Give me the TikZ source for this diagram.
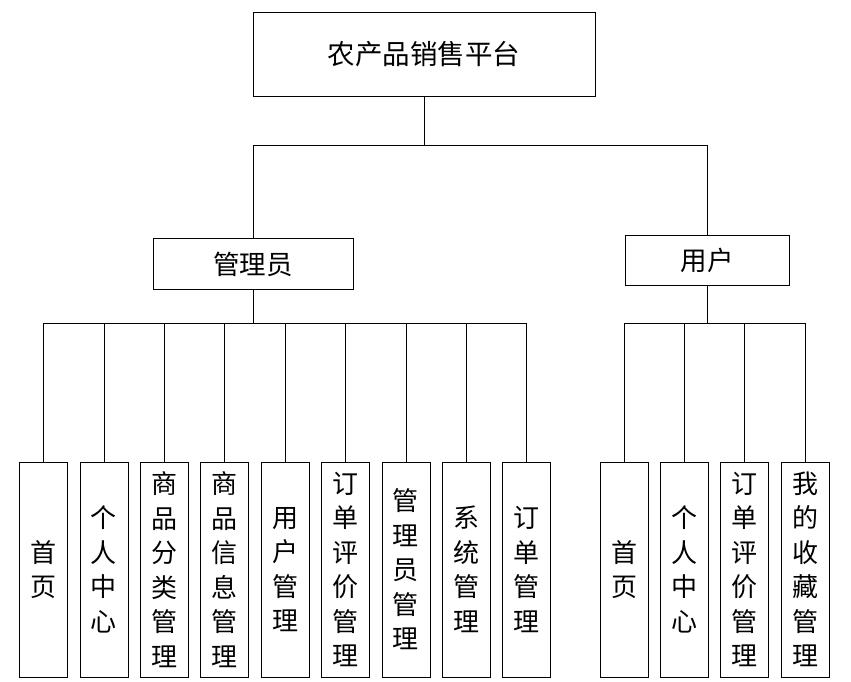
\documentclass[tikz,border=0pt]{standalone}
\usepackage{fontspec}
\setmainfont{Noto Sans CJK SC}
\usetikzlibrary{positioning}

\begin{document}
\begin{tikzpicture}[
    x=1pt, y=1pt,
    node distance=11.6pt,
    topbox/.style={rectangle, draw, line width=0.8pt, minimum width=342pt, minimum height=84pt, inner sep=0pt, font=\fontsize{27.5}{32}\selectfont},
    rolebox/.style={rectangle, draw, line width=0.8pt, minimum height=51pt, inner sep=0pt, font=\fontsize{26.5}{30}\selectfont},
    leaf/.style={rectangle, draw, line width=0.8pt, minimum width=48pt, minimum height=215pt, inner sep=0pt, align=center, font=\fontsize{26}{34.5}\selectfont},
    link/.style={line width=0.8pt}
]
\useasboundingbox (0,0) rectangle (851,-681);

% Root
\node[topbox] (root) at (424,-54) {农产品销售平台};

% Roles
\node[rolebox, minimum width=200pt] (admin) at (253,-264) {管理员};
\node[rolebox, minimum width=164pt, minimum height=50pt] (user) at (707,-260) {用户};

% Admin functions
\node[leaf] (a1) at (43.5,-569.5) {首\\页};
\node[leaf, right=of a1] (a2) {个\\人\\中\\心};
\node[leaf, right=of a2] (a3) {商\\品\\分\\类\\管\\理};
\node[leaf, right=of a3] (a4) {商\\品\\信\\息\\管\\理};
\node[leaf, right=of a4] (a5) {用\\户\\管\\理};
\node[leaf, right=of a5] (a6) {订\\单\\评\\价\\管\\理};
\node[leaf, right=of a6] (a7) {管\\理\\员\\管\\理};
\node[leaf, right=of a7] (a8) {系\\统\\管\\理};
\node[leaf, right=of a8] (a9) {订\\单\\管\\理};

% User functions
\node[leaf] (u1) at (624,-569.5) {首\\页};
\node[leaf, right=of u1] (u2) {个\\人\\中\\心};
\node[leaf, right=of u2] (u3) {订\\单\\评\\价\\管\\理};
\node[leaf, right=of u3] (u4) {我\\的\\收\\藏\\管\\理};

% Links
\draw[link] (root.south) -- ++(0,-49) -| (admin.north);
\draw[link] (root.south) -- ++(0,-49) -| (user.north);

\draw[link] (admin.south) -- ++(0,-33) -| (a1.north);
\draw[link] (admin.south) -- ++(0,-33) -| (a2.north);
\draw[link] (admin.south) -- ++(0,-33) -| (a3.north);
\draw[link] (admin.south) -- ++(0,-33) -| (a4.north);
\draw[link] (admin.south) -- ++(0,-33) -| (a5.north);
\draw[link] (admin.south) -- ++(0,-33) -| (a6.north);
\draw[link] (admin.south) -- ++(0,-33) -| (a7.north);
\draw[link] (admin.south) -- ++(0,-33) -| (a8.north);
\draw[link] (admin.south) -- ++(0,-33) -| (a9.north);

\draw[link] (user.south) -- ++(0,-38) -| (u1.north);
\draw[link] (user.south) -- ++(0,-38) -| (u2.north);
\draw[link] (user.south) -- ++(0,-38) -| (u3.north);
\draw[link] (user.south) -- ++(0,-38) -| (u4.north);

\end{tikzpicture}
\end{document}
